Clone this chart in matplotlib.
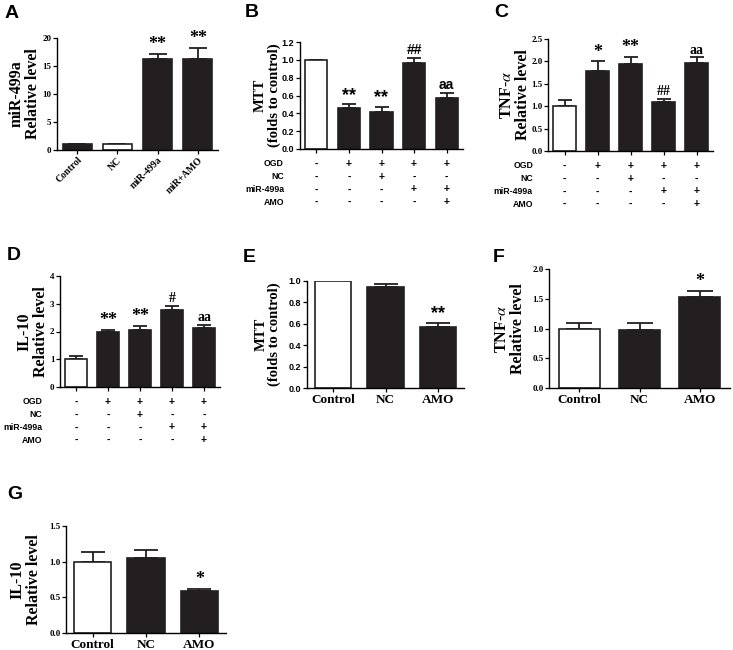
import numpy as np
import matplotlib
matplotlib.use('Agg')
import matplotlib.pyplot as plt

plt.rcParams['mathtext.fontset'] = 'stix'

W, H = 733, 650
BLACK = '#231f20'
SERIF = 'Liberation Serif'
SANS = 'Liberation Sans'

# panel A
a_groups = ['Control', 'NC', 'miR-499a', 'miR+AMO']
a_vals = [1.0, 1.0, 16.3, 16.3]
a_errs = [0.0, 0.1, 0.9, 2.0]
a_marks = ['', '', '**', '**']
a_fill = ['k', 'w', 'k', 'k']

# treatment table for B, C, D
table_rows = ['OGD', 'NC', 'miR-499a', 'AMO']
table_signs = [['-', '+', '+', '+', '+'],
               ['-', '-', '+', '-', '-'],
               ['-', '-', '-', '+', '+'],
               ['-', '-', '-', '-', '+']]

# panel B
b_vals = [1.0, 0.46, 0.42, 0.96, 0.57]
b_errs = [0.0, 0.04, 0.05, 0.06, 0.06]
b_marks = ['', '**', '**', '##', 'aa']

# panel C
c_vals = [1.0, 1.79, 1.94, 1.09, 1.97]
c_errs = [0.14, 0.21, 0.16, 0.08, 0.12]
c_marks = ['', '*', '**', '##', 'aa']

# panel D
d_vals = [1.0, 1.98, 2.05, 2.78, 2.13]
d_errs = [0.12, 0.07, 0.15, 0.15, 0.10]
d_marks = ['', '**', '**', '#', 'aa']

# panels E, F, G
efg_groups = ['Control', 'NC', 'AMO']
e_vals = [1.0, 0.94, 0.57]
e_errs = [0.0, 0.03, 0.04]
e_marks = ['', '', '**']
f_vals = [1.0, 0.97, 1.53]
f_errs = [0.09, 0.12, 0.10]
f_marks = ['', '', '*']
g_vals = [1.0, 1.05, 0.59]
g_errs = [0.14, 0.11, 0.03]
g_marks = ['', '', '*']

fig = plt.figure(figsize=(W / 100, H / 100), dpi=100)


def px_axes(l, t, r, b):
    return fig.add_axes([l / W, 1 - b / H, (r - l) / W, (b - t) / H])


def bar_panel(box, vals, errs, marks, ylim, yticks, ylabel, label_x,
              tick_font=SERIF, mark_font=SERIF, fill=None, width=0.68,
              label_size=11.5, tick_fmt='{:.1f}'):
    ax = px_axes(*box)
    n = len(vals)
    x = np.arange(n)
    if fill is None:
        fill = ['w'] + ['k'] * (n - 1)
    colors = ['white' if f == 'w' else BLACK for f in fill]
    ax.bar(x, vals, width=width, color=colors, edgecolor=BLACK,
           linewidth=1.2, zorder=2)
    bar_px = (box[2] - box[0]) * width / n
    cap = 0.65 * bar_px / 2 * 0.72
    ax.errorbar(x, vals, yerr=[np.zeros(n), errs], fmt='none',
                ecolor=BLACK, elinewidth=1.3, capsize=cap, capthick=1.3,
                zorder=1)
    for xi, v, e, m in zip(x, vals, errs, marks):
        if m:
            size = 13 if '*' in m else 10
            ax.annotate(m, (xi, v + e), xytext=(0, 0.5), textcoords='offset points',
                        ha='center', va='bottom', fontsize=size,
                        fontweight='bold', family=mark_font)
    ax.set_xlim(-0.5, n - 0.5)
    ax.set_ylim(*ylim)
    ax.set_yticks(yticks)
    ax.set_yticklabels([tick_fmt.format(t) for t in yticks], family=tick_font,
                       fontweight='bold', fontsize=6.5)
    ax.set_xticks(x)
    ax.set_xticklabels([])
    for s in ['top', 'right']:
        ax.spines[s].set_visible(False)
    for s in ['left', 'bottom']:
        ax.spines[s].set_linewidth(1.0)
    ax.tick_params(axis='both', length=3, width=0.9, pad=1)
    ax.set_ylabel(ylabel, family=SERIF, fontweight='bold', fontsize=label_size,
                  va='center', linespacing=1.05)
    ax.yaxis.set_label_coords(label_x, 0.5)
    return ax


def add_table(ax, label_dx=-16):
    for i, (row, signs) in enumerate(zip(table_rows, table_signs)):
        dy = -(15 + 12.7 * i) * 0.72
        ax.annotate(row, (0, 0), xycoords='axes fraction', xytext=(label_dx * 0.72, dy),
                    textcoords='offset points', ha='right', va='center',
                    fontsize=6.3, fontweight='bold', family=SANS)
        for j, s in enumerate(signs):
            ax.annotate(s, (j, 0), xycoords=('data', 'axes fraction'),
                        xytext=(0, dy), textcoords='offset points',
                        ha='center', va='center', fontsize=7.5,
                        fontweight='bold', family=SANS)


# A
ax = bar_panel((57, 38, 218, 150), a_vals, a_errs, a_marks, (0, 20),
               [0, 5, 10, 15, 20], 'miR-499a\nRelative level', -0.2,
               fill=a_fill, width=0.72, tick_fmt='{:.0f}')
ax.set_xticklabels(a_groups, rotation=45, ha='right', rotation_mode='anchor',
                   family=SERIF, fontweight='bold', fontsize=7)

# B
ax = bar_panel((300, 42, 463, 149), b_vals, b_errs, b_marks, (0, 1.2),
               [0, 0.2, 0.4, 0.6, 0.8, 1.0, 1.2], 'MTT\n(folds to control)', -0.2,
               tick_font=SANS, mark_font=SANS, label_size=10.5)
add_table(ax, -16)

# C
ax = bar_panel((548, 39, 713, 151), c_vals, c_errs, c_marks, (0, 2.5),
               [0, 0.5, 1.0, 1.5, 2.0, 2.5], 'TNF-$\\alpha$\nRelative level', -0.2)
add_table(ax, -15)

# D
ax = bar_panel((60, 276, 220, 387), d_vals, d_errs, d_marks, (0, 4),
               [0, 1, 2, 3, 4], 'IL-10\nRelative level', -0.17, tick_fmt='{:.0f}')
add_table(ax, -18)

# E
ax = bar_panel((307, 281, 464, 388), e_vals, e_errs, e_marks, (0, 1.0),
               [0, 0.2, 0.4, 0.6, 0.8, 1.0], 'MTT\n(folds to control)', -0.25,
               tick_font=SANS, mark_font=SANS, width=0.7, label_size=10.5)
ax.set_xticklabels(efg_groups, family=SERIF, fontweight='bold', fontsize=9.5)

# F
ax = bar_panel((549, 269, 730, 388), f_vals, f_errs, f_marks, (0, 2.0),
               [0, 0.5, 1.0, 1.5, 2.0], 'TNF-$\\alpha$\nRelative level', -0.215)
ax.set_xticklabels(efg_groups, family=SERIF, fontweight='bold', fontsize=9.5)

# G
ax = bar_panel((66, 526, 226, 633), g_vals, g_errs, g_marks, (0, 1.5),
               [0, 0.5, 1.0, 1.5], 'IL-10\nRelative level', -0.25, width=0.7)
ax.set_xticklabels(efg_groups, family=SERIF, fontweight='bold', fontsize=9.5)

letters = [('A', 5, 5), ('B', 245, 4), ('C', 494, 4), ('D', 7, 247),
           ('E', 243, 249), ('F', 493, 249), ('G', 7, 486)]
for letter, lx, ly in letters:
    fig.text(lx / W, 1 - ly / H, letter, family=SANS, fontweight='bold',
             fontsize=14, va='top', ha='left')

fig.savefig('out.png', dpi=100)
